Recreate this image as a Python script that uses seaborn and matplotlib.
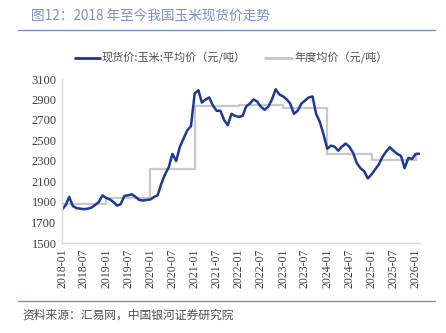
import numpy as np
import pandas as pd
import matplotlib
matplotlib.use("Agg")
import matplotlib.pyplot as plt
import seaborn as sns
from matplotlib.lines import Line2D

# ---------------- data ----------------
start_month = "2018-01-01"
spot_price = [
    1825, 1870, 1950, 1860, 1840, 1835, 1830, 1835, 1845, 1870, 1900, 1965,  # 2018
    1940, 1925, 1900, 1865, 1880, 1960, 1965, 1975, 1950, 1920, 1915, 1920,  # 2019
    1925, 1950, 1965, 2080, 2170, 2240, 2370, 2300, 2440, 2520, 2600, 2640,  # 2020
    2960, 2990, 2870, 2900, 2920, 2840, 2790, 2790, 2700, 2650, 2760, 2740,  # 2021
    2730, 2740, 2830, 2860, 2900, 2880, 2830, 2800, 2830, 2900, 3000, 2950,  # 2022
    2930, 2900, 2860, 2760, 2790, 2860, 2890, 2920, 2930, 2760, 2680, 2560,  # 2023
    2420, 2450, 2440, 2400, 2440, 2470, 2440, 2380, 2280, 2230, 2200, 2130,  # 2024
    2170, 2220, 2265, 2340, 2390, 2435, 2400, 2370, 2350, 2230, 2330, 2320,  # 2025
    2370, 2370,                                                              # 2026
]
years = [2018, 2019, 2020, 2021, 2022, 2023, 2024, 2025, 2026]
annual_avg = [1877, 1936, 2222, 2837, 2850, 2814, 2369, 2310, 2364]
tick_labels = ["2018-01", "2018-07", "2019-01", "2019-07", "2020-01", "2020-07",
               "2021-01", "2021-07", "2022-01", "2022-07", "2023-01", "2023-07",
               "2024-01", "2024-07", "2025-01", "2025-07", "2026-01"]
series_names = ["现货价:玉米:平均价（元/吨）", "年度均价（元/吨）"]

dates = pd.date_range(start_month, periods=len(spot_price), freq="MS")
avg_map = dict(zip(years, annual_avg))
df = pd.DataFrame({
    "date": dates,
    "spot": spot_price,
    "avg": [avg_map[d.year] for d in dates],
})

# ---------------- figure ----------------
sns.set_theme(style="white")
plt.rcParams["font.family"] = ["Noto Sans CJK SC", "DejaVu Sans"]
plt.rcParams["axes.unicode_minus"] = False

W, H = 446, 333
fig = plt.figure(figsize=(W / 100, H / 100), dpi=100)
ax = fig.add_axes([62 / W, 1 - 243 / H, (420 - 62) / W, (243 - 79) / H])

blue = "#1a3a96"
gray = "#c8c8c8"

sns.lineplot(data=df, x="date", y="avg", ax=ax, color=gray, linewidth=1.6,
             drawstyle="steps-post", label=series_names[1])
sns.lineplot(data=df, x="date", y="spot", ax=ax, color=blue, linewidth=1.8,
             label=series_names[0])
ax.get_legend().remove()

ax.set_ylim(1500, 3100)
ax.set_yticks(range(1500, 3101, 200))
ax.set_xlim(pd.Timestamp("2018-01-01"), pd.Timestamp("2026-02-05"))
tick_dates = [pd.Timestamp(t + "-01") for t in tick_labels]
ax.set_xticks(tick_dates)
ax.set_xticklabels(tick_labels, rotation=90)
ax.set_xlabel("")
ax.set_ylabel("")

for lab in ax.get_yticklabels():
    lab.set_fontfamily("Liberation Serif")
    lab.set_fontsize(9)
    lab.set_color("#404040")
for lab in ax.get_xticklabels():
    lab.set_fontfamily("Liberation Serif")
    lab.set_fontsize(8.5)
    lab.set_color("#404040")
ax.tick_params(axis="both", length=0, pad=4)

for s in ["top", "right"]:
    ax.spines[s].set_visible(False)
for s in ["left", "bottom"]:
    ax.spines[s].set_color("#d9d9d9")
    ax.spines[s].set_linewidth(1)

# legend drawn in figure coords
ly = 1 - 58 / H
fig.add_artist(Line2D([75 / W, 100 / W], [ly, ly], color=blue, linewidth=2))
fig.text(102 / W, ly, series_names[0], fontsize=8, color="#505050", va="center", ha="left")
fig.add_artist(Line2D([265 / W, 292 / W], [ly, ly], color=gray, linewidth=2))
fig.text(294 / W, ly, series_names[1], fontsize=8, color="#505050", va="center", ha="left")

# title
fig.text(31 / W, 1 - 17 / H, "图12：2018 年至今我国玉米现货价走势", fontsize=9.8,
         color="#7c8fc4", va="center", ha="left")
fig.add_artist(Line2D([18 / W, 435 / W], [1 - 30 / H, 1 - 30 / H], color="#7890c8", linewidth=1))

# footer
fig.add_artist(Line2D([18 / W, 435 / W], [1 - 301 / H, 1 - 301 / H], color="#7890c8", linewidth=1))
fig.text(22 / W, 1 - 315 / H, "资料来源：汇易网，中国银河证券研究院", fontsize=8.5,
         color="#505050", va="center", ha="left", style="italic")

fig.savefig("out.png", dpi=100)
